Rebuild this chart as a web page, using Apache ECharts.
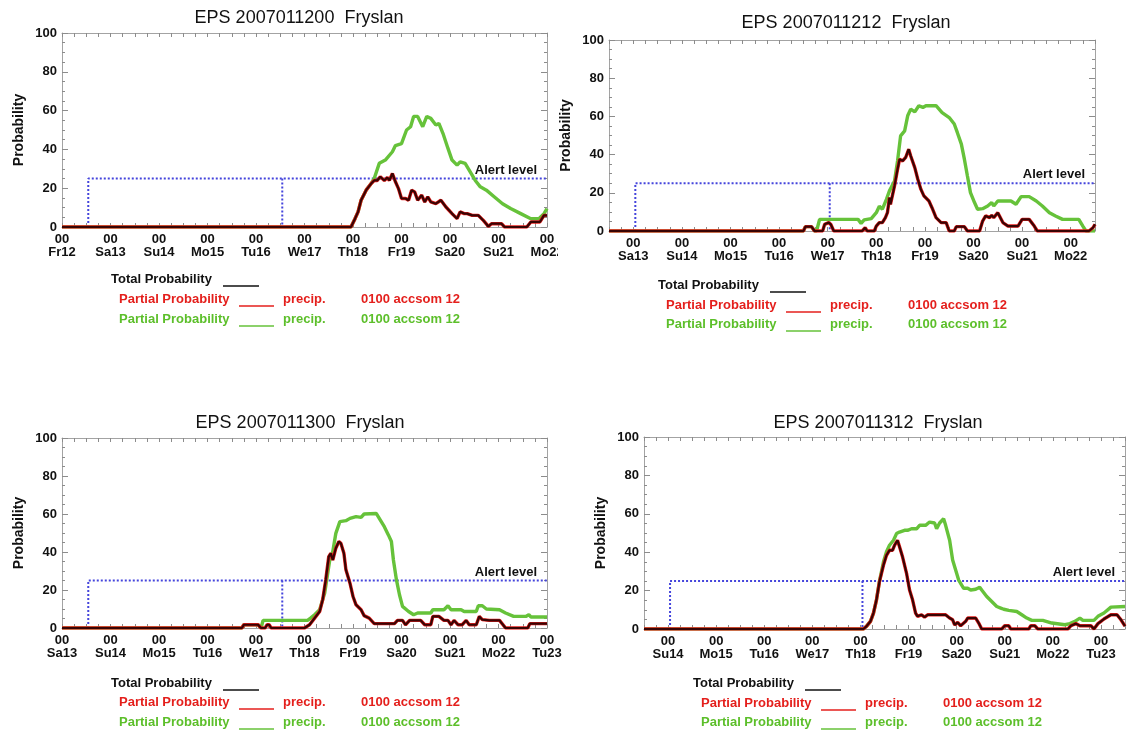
<!DOCTYPE html>
<html>
<head>
<meta charset="utf-8">
<title>EPS Fryslan precipitation probabilities</title>
<script src="https://cdn.jsdelivr.net/npm/echarts@6/dist/echarts.min.js"></script>
<style>
  html, body { margin: 0; padding: 0; background: #ffffff; }
  #chart { width: 1128px; height: 731px; }
</style>
</head>
<body>
<div id="chart"></div>
<script>
// Four EPS runs for Fryslan. Hours are counted from each run's base time.
const titles = [
  'EPS 2007011200  Fryslan',
  'EPS 2007011212  Fryslan',
  'EPS 2007011300  Fryslan',
  'EPS 2007011312  Fryslan'
];

// Day ticks (00 UTC) per run
const dayHours1 = [0, 24, 48, 72, 96, 120, 144, 168, 192, 216, 240];
const dayNames1 = ['Fr12', 'Sa13', 'Su14', 'Mo15', 'Tu16', 'We17', 'Th18', 'Fr19', 'Sa20', 'Su21', 'Mo22'];
const dayHours2 = [12, 36, 60, 84, 108, 132, 156, 180, 204, 228];
const dayNames2 = ['Sa13', 'Su14', 'Mo15', 'Tu16', 'We17', 'Th18', 'Fr19', 'Sa20', 'Su21', 'Mo22'];
const dayHours3 = [0, 24, 48, 72, 96, 120, 144, 168, 192, 216, 240];
const dayNames3 = ['Sa13', 'Su14', 'Mo15', 'Tu16', 'We17', 'Th18', 'Fr19', 'Sa20', 'Su21', 'Mo22', 'Tu23'];
const dayHours4 = [12, 36, 60, 84, 108, 132, 156, 180, 204, 228];
const dayNames4 = ['Su14', 'Mo15', 'Tu16', 'We17', 'Th18', 'Fr19', 'Sa20', 'Su21', 'Mo22', 'Tu23'];

const yTicks = [0, 20, 40, 60, 80, 100];
const alertLevel = 25;
const alertBoxHours = [13, 109];

// Run 2007011200
const totalHours1 = [0, 143, 145, 146.5, 148, 150.5, 153, 154.5, 156, 157.5, 159.5, 161, 162, 163.5, 165, 166.5, 168, 170, 171.5, 173, 174.5, 176, 178, 179.5, 181, 182.5, 185, 187.5, 190, 193, 195.5, 197, 199, 200.5, 203, 206, 208.5, 211, 212.5, 217.5, 219, 230, 232, 236.5, 238.5, 240];
const totalProb1  = [0, 0, 4.3, 7.8, 13.8, 19, 22.4, 24, 24, 25.9, 24, 25.5, 24, 27.6, 23.3, 19.8, 14.7, 14.7, 13.8, 19, 18.1, 13.8, 16.4, 12.9, 15.5, 12.9, 12, 13.8, 10.3, 6.9, 4.3, 7.8, 6.9, 6.9, 6, 6, 3.4, 0.3, 1.7, 1.7, 0, 0, 2.6, 2.6, 6, 6];
const greenHours1 = [0, 143, 145, 146.5, 148, 150.5, 153, 154.5, 157, 160, 163.5, 165, 168, 170.5, 172.5, 174, 176, 178.5, 180.5, 182.5, 185, 186.5, 188.5, 191, 193, 195.5, 197, 199.5, 202, 204.5, 207, 210, 214, 218, 222, 227, 232, 236, 238.5, 240];
const greenProb1  = [0, 0, 4.3, 7.8, 13.8, 19, 22.4, 25, 32.8, 34.5, 38.8, 42, 43, 50, 51.7, 57, 57, 51.7, 57, 56, 52.6, 53.4, 48.3, 40.5, 34.5, 31.9, 33.6, 32.8, 28.4, 24, 20.7, 19, 15.5, 12, 9.5, 6.9, 4.3, 4.3, 6.9, 9.5];

// Run 2007011212
const totalHours2 = [0, 96, 97, 100, 101.5, 105.5, 106.5, 108.5, 109.5, 111, 125, 126.5, 127.5, 131, 132, 133.5, 135, 136.5, 137.5, 138.5, 139, 141, 142.5, 143.5, 145, 146.5, 148, 149, 151, 152.5, 154, 155.5, 158, 159.5, 161.5, 164, 166.5, 168, 170.5, 171.5, 175.5, 177, 183, 184.5, 186, 188, 189, 190, 192, 194.5, 197, 202, 204, 207.5, 210, 211.5, 237, 239, 240];
const totalProb2  = [0, 0, 2.3, 2.3, 0, 0, 3.5, 4.4, 3.5, 0, 0, 1.7, 0, 0, 2.6, 4.4, 4.4, 7, 9.6, 17.5, 14, 23.6, 32.3, 37.6, 36.7, 38.5, 42.8, 39.3, 33.2, 27.1, 21.9, 18.4, 15.7, 12.2, 7, 4.4, 4.4, 0, 0, 2.3, 2.3, 0, 0, 5.2, 7.9, 7, 8.2, 7, 9.6, 4.4, 2.6, 2.6, 6.1, 6.1, 2.6, 0, 0, 1.7, 3.5];
const greenHours2 = [0, 96, 97, 100, 101.5, 102.5, 104, 123, 124.5, 126, 129.5, 132, 133.5, 135, 137, 138.5, 141, 142.5, 144, 146, 147.5, 149, 151, 153, 155, 156.5, 161.5, 164.5, 168, 170.5, 172, 174, 175.5, 177, 178.5, 180.5, 182, 184.5, 187, 189, 190, 192, 198.5, 201, 203.5, 207.5, 211, 214, 217.5, 220.5, 224, 232, 234, 235.5, 240];
const greenProb2  = [0, 0, 2.3, 2.3, 0, 0, 6.1, 6.1, 4, 5.8, 6.5, 9.6, 13, 11.4, 16.6, 21, 26.2, 36.7, 49.8, 52.4, 60.3, 63.8, 62.4, 65.6, 64.7, 65.6, 65.6, 62, 59.4, 56, 51.6, 45.5, 37.6, 28.8, 20.1, 14.9, 11.4, 11.7, 13.1, 14.9, 13.1, 15.7, 15.7, 14, 18, 18, 15.7, 13.1, 9.6, 7.9, 6.1, 6.1, 2.6, 0, 0];

// Run 2007011300
const totalHours3 = [0, 89, 90, 97, 98.5, 100.5, 101.5, 102.5, 103.5, 120, 122.5, 125, 127.5, 129, 130.5, 132, 133, 134, 135.5, 137, 138, 139.5, 140.5, 142.5, 144, 145.5, 148, 149.5, 152, 154.5, 164.5, 166, 168.5, 170, 172, 177.5, 179.5, 182.5, 183.5, 186.5, 189, 191, 192.5, 194, 196, 198, 200, 201.5, 205, 206.5, 208, 211.5, 216.5, 219.5, 230.5, 231.5, 240];
const totalProb3  = [0, 0, 1.7, 1.7, 0, 0, 1.7, 1.7, 0, 0, 1.7, 5.2, 8.7, 14.9, 25.3, 37.6, 39.3, 35.8, 42, 45.5, 44.6, 39.3, 30.6, 23.6, 16.6, 12.2, 9.6, 6.5, 5.2, 2.3, 2.3, 4, 4, 1.7, 4, 4, 1.7, 1.7, 6.1, 6.1, 4, 4, 1.7, 4, 1.7, 1.7, 4, 1.7, 1.7, 6.1, 4.4, 4, 4, 0, 0, 2.3, 2.3];
const greenHours3 = [0, 89, 90, 97, 98.5, 99.5, 121.5, 123, 125, 127.5, 130, 132.5, 134, 135.5, 137.5, 140.5, 142.5, 145.5, 148, 149.5, 155.5, 157, 159.5, 161.5, 163, 164, 165.5, 167, 168.5, 171.5, 174, 176, 182.5, 183.5, 189, 191, 192.5, 197.5, 199, 205, 206, 208, 210, 216.5, 219.5, 223.5, 229.5, 231, 232, 240];
const greenProb3  = [0, 0, 1.7, 1.7, 0, 4, 4, 5.2, 7, 9.6, 18.4, 35.8, 40.2, 49.8, 56, 56.5, 57.7, 58.6, 58.2, 60, 60.3, 57.7, 53.3, 49, 45.5, 35.8, 25.3, 17.5, 11.4, 8.7, 7, 7.9, 7.9, 9.6, 9.6, 11.7, 9.6, 9.6, 8.7, 8.7, 11.7, 11.7, 10, 9.6, 7.9, 6.1, 6.1, 7, 5.8, 5.8];

// Run 2007011312
const totalHours4 = [0, 109.5, 111, 113, 114.5, 116, 117.5, 119.5, 121, 122.5, 124, 125, 126.5, 127.5, 129, 131, 132.5, 134, 135.5, 136.5, 138.5, 140, 141.5, 150.5, 152.5, 154, 155, 156.5, 158, 160.5, 161.5, 165.5, 167, 168.5, 178.5, 180, 182, 183, 192, 193, 195, 196.5, 211.5, 213, 215.5, 217.5, 223, 224.5, 226.5, 228, 229.5, 233, 236, 238, 240];
const totalProb4  = [0, 0, 1.4, 4, 8.3, 15.2, 24.7, 33.3, 38.4, 41, 41, 43.6, 46.2, 42.8, 37.6, 29, 20.3, 15.2, 8.3, 6.6, 7.4, 6.2, 7.4, 7.4, 5.7, 4.8, 2.2, 3.4, 1.7, 4, 5.7, 5.7, 3.1, 0, 0, 1.7, 1.7, 0, 0, 1.7, 1.7, 0, 0, 1.7, 2.8, 1.7, 1.7, 0, 2.8, 4, 5.2, 7.4, 7.4, 4.8, 1.5];
const greenHours4 = [0, 109.5, 111, 113, 114.5, 116, 117.5, 119.5, 121, 122.5, 124.5, 126, 127.5, 130, 131.5, 133.5, 136, 137.5, 140.5, 142.5, 145, 146, 147.5, 149.5, 150.5, 152.5, 154, 155.5, 157, 159.5, 161.5, 163, 165.5, 167.5, 168.5, 171, 173.5, 176, 178, 179.5, 182, 186, 188.5, 191, 193.5, 199, 203.5, 210, 212.5, 215, 217.5, 219, 224.5, 226.5, 229.5, 233, 240];
const greenProb4  = [0, 0, 1.4, 4, 8.3, 15.2, 25, 35, 40.2, 43.6, 46.2, 49.7, 50.5, 51.4, 51.4, 52.2, 52.2, 54, 54, 55.7, 55.2, 52.2, 55.2, 57.4, 54, 46.2, 35.9, 30.7, 25.5, 21.2, 21.2, 20.3, 20.7, 21.7, 20.3, 16.9, 14.3, 11.7, 10.9, 10.3, 9.7, 9.1, 7.4, 5.7, 4.5, 4.5, 3.1, 2.2, 2.8, 4, 5.7, 4.5, 4.5, 6.6, 8.3, 11.4, 11.7];

// Legend texts
const legendTotal = 'Total Probability';
const legendPartial = 'Partial Probability';
const legendVar = 'precip.';
const legendParam = '0100 accsom 12';
const alertText = 'Alert level';
const yName = 'Probability';

const runs = [
  { title: titles[0], dayHours: dayHours1, dayNames: dayNames1, tH: totalHours1, tP: totalProb1, gH: greenHours1, gP: greenProb1 },
  { title: titles[1], dayHours: dayHours2, dayNames: dayNames2, tH: totalHours2, tP: totalProb2, gH: greenHours2, gP: greenProb2 },
  { title: titles[2], dayHours: dayHours3, dayNames: dayNames3, tH: totalHours3, tP: totalProb3, gH: greenHours3, gP: greenProb3 },
  { title: titles[3], dayHours: dayHours4, dayNames: dayNames4, tH: totalHours4, tP: totalProb4, gH: greenHours4, gP: greenProb4 }
];

// Panel placement on the page
const layout = [
  { left: 62,  top: 33,  width: 485, height: 194, titleX: 299, titleY: 18,  rows: [279, 299, 319] },
  { left: 609, top: 40,  width: 486, height: 191, titleX: 846, titleY: 23,  rows: [285, 305, 324] },
  { left: 62,  top: 438, width: 485, height: 190, titleX: 300, titleY: 423, rows: [683, 702, 722] },
  { left: 644, top: 437, width: 482, height: 192, titleX: 878, titleY: 423, rows: [683, 703, 722] }
];

const FONT = '"Liberation Sans", Arial, Helvetica, sans-serif';
const FRAME = '#a3a3a3';
const TICK = '#8c8c8c';
const GREEN = '#66c23a';
const GREEN_TEXT = '#5cbf2a';
const RED = '#e41f1c';
const DARK = '#380404';
const BLUE = '#4545dc';

const zip = (xs, ys) => xs.map((x, i) => [x, ys[i]]);

const grids = [], xAxes = [], yAxes = [], series = [], graphics = [];

runs.forEach((run, i) => {
  const L = layout[i];
  grids.push({ left: L.left, top: L.top, width: L.width, height: L.height, containLabel: false });

  const labelAt = (v) => {
    const k = run.dayHours.indexOf(v);
    return k >= 0 ? '00\n' + run.dayNames[k] : '';
  };
  const xBase = {
    gridIndex: i, type: 'value', min: 0, max: 240, interval: 6,
    splitLine: { show: false },
    axisLine: { show: true, onZero: false, lineStyle: { color: FRAME, width: 1 } },
    axisTick: { show: true, inside: true, length: 4, lineStyle: { color: TICK } }
  };
  xAxes.push(Object.assign({}, xBase, {
    position: 'bottom',
    axisLabel: {
      show: true, margin: 6.5, formatter: labelAt, color: '#111',
      fontFamily: FONT, fontWeight: 'bold', fontSize: 13, lineHeight: 12.5,
      showMinLabel: true, showMaxLabel: true
    }
  }));
  xAxes.push(Object.assign({}, xBase, { position: 'top', axisLabel: { show: false } }));

  const yBase = {
    gridIndex: i, type: 'value', min: yTicks[0], max: yTicks[yTicks.length - 1], interval: 20,
    splitLine: { show: false },
    axisLine: { show: true, onZero: false, lineStyle: { color: FRAME, width: 1 } },
    axisTick: { show: true, inside: true, length: 6, lineStyle: { color: TICK } },
    minorTick: { show: true, splitNumber: 4, length: 3, lineStyle: { color: TICK } }
  };
  yAxes.push(Object.assign({}, yBase, {
    position: 'left',
    name: yName, nameLocation: 'middle', nameGap: 36, nameRotate: 90,
    nameTextStyle: { fontFamily: FONT, fontWeight: 'bold', fontSize: 14, color: '#111' },
    axisLabel: { show: true, margin: 5, color: '#111', fontFamily: FONT, fontWeight: 'bold', fontSize: 13 }
  }));
  yAxes.push(Object.assign({}, yBase, { position: 'right', axisLabel: { show: false } }));

  const xi = i * 2, yi = i * 2;
  const lineBase = { type: 'line', xAxisIndex: xi, yAxisIndex: yi, symbol: 'none', silent: true, animation: false };

  // Alert box: dotted outline at the alert level
  series.push(Object.assign({}, lineBase, {
    name: 'alert-' + i, z: 1,
    lineStyle: { color: BLUE, width: 2, type: [2, 2] },
    data: [[alertBoxHours[0], 0], [alertBoxHours[0], alertLevel], [240, alertLevel]]
  }));
  series.push(Object.assign({}, lineBase, {
    name: 'alert-end-' + i, z: 1,
    lineStyle: { color: BLUE, width: 2, type: [2, 2] },
    data: [[alertBoxHours[1], alertLevel], [alertBoxHours[1], 0]]
  }));
  // Green partial probability
  series.push(Object.assign({}, lineBase, {
    name: 'green-' + i, z: 2,
    lineStyle: { color: GREEN, width: 3.4 },
    data: zip(run.gH, run.gP)
  }));
  // Red partial probability (same values as total)
  series.push(Object.assign({}, lineBase, {
    name: 'red-' + i, z: 3,
    lineStyle: { color: RED, width: 3.4 },
    data: zip(run.tH, run.tP)
  }));
  // Total probability
  series.push(Object.assign({}, lineBase, {
    name: 'total-' + i, z: 4,
    lineStyle: { color: DARK, width: 2.2 },
    data: zip(run.tH, run.tP)
  }));

  // Title
  graphics.push({
    type: 'text', x: L.titleX, y: L.titleY, z: 100,
    style: { text: run.title, fill: '#111', font: '18px ' + FONT, align: 'center', verticalAlign: 'middle' }
  });

  // Legend block under the panel
  const gl = L.left;
  const txt = (x, y, s, color) => ({
    type: 'text', x: x, y: y, z: 100,
    style: { text: s, fill: color, font: 'bold 13px ' + FONT, align: 'left', verticalAlign: 'middle' }
  });
  const seg = (x1, x2, y, color) => ({
    type: 'line', z: 100, shape: { x1: x1, y1: y, x2: x2, y2: y },
    style: { stroke: color, lineWidth: 1.6 }
  });
  const [r1, r2, r3] = L.rows;
  graphics.push(txt(gl + 49, r1, legendTotal, '#111'));
  graphics.push(seg(gl + 161, gl + 197, r1 + 7, '#111'));
  graphics.push(txt(gl + 57, r2, legendPartial, RED));
  graphics.push(seg(gl + 177, gl + 212, r2 + 7, RED));
  graphics.push(txt(gl + 221, r2, legendVar, RED));
  graphics.push(txt(gl + 299, r2, legendParam, RED));
  graphics.push(txt(gl + 57, r3, legendPartial, GREEN_TEXT));
  graphics.push(seg(gl + 177, gl + 212, r3 + 7, GREEN));
  graphics.push(txt(gl + 221, r3, legendVar, GREEN_TEXT));
  graphics.push(txt(gl + 299, r3, legendParam, GREEN_TEXT));
});

// The first panel's figure ends at x = 558, cutting its last day label
graphics.push({
  type: 'rect', z: 100, shape: { x: 558, y: 229, width: 22, height: 34 },
  style: { fill: '#ffffff' }
});

const chart = echarts.init(document.getElementById('chart'), null, { renderer: 'canvas' });
chart.setOption({
  backgroundColor: '#ffffff',
  animation: false,
  grid: grids,
  xAxis: xAxes,
  yAxis: yAxes,
  series: series,
  graphic: graphics
});

// "Alert level" caption placed at the right end of each alert line
const captions = runs.map((run, i) => {
  const p = chart.convertToPixel({ gridIndex: i }, [240, alertLevel]);
  return {
    type: 'text', x: p[0] - 10, y: p[1] - 2, z: 100,
    style: { text: alertText, fill: '#111', font: 'bold 13px ' + FONT, align: 'right', verticalAlign: 'bottom' }
  };
});
chart.setOption({ graphic: graphics.concat(captions) });
</script>
</body>
</html>
